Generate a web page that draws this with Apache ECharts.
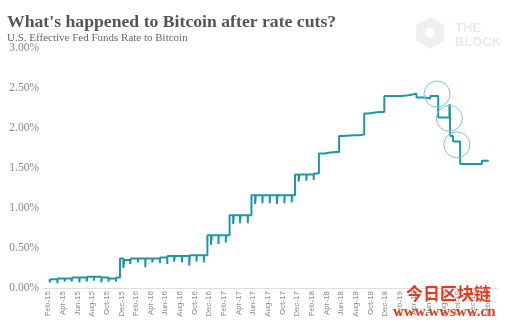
<!DOCTYPE html>
<html>
<head>
<meta charset="utf-8">
<script src="https://cdn.jsdelivr.net/npm/echarts@6/dist/echarts.min.js"></script>
<style>
html,body{margin:0;padding:0;background:#fff;}
#chart{width:506px;height:324px;}
</style>
</head>
<body>
<div id="chart"></div>
<script>
// ---- data ----
var titleText = "What's happened to Bitcoin after rate cuts?";
var subtitleText = "U.S. Effective Fed Funds Rate to Bitcoin";

var tickLabels = ["Feb-15","Apr-15","Jun-15","Aug-15","Oct-15","Dec-15",
  "Feb-16","Apr-16","Jun-16","Aug-16","Oct-16","Dec-16",
  "Feb-17","Apr-17","Jun-17","Aug-17","Oct-17","Dec-17",
  "Feb-18","Apr-18","Jun-18","Aug-18","Oct-18","Dec-18",
  "Feb-19","Apr-19","Jun-19","Aug-19","Oct-19","Dec-19","Feb-20"];

var yTicks = [0, 0.5, 1, 1.5, 2, 2.5, 3];

// effective fed funds rate (%), [date, rate] step points
var effrPoints = [
  ["2015-02-26",0.11],["2015-02-27",0.07],
  ["2015-03-02",0.11],["2015-03-31",0.06],
  ["2015-04-01",0.12],["2015-04-30",0.08],
  ["2015-05-01",0.12],["2015-05-29",0.08],
  ["2015-06-01",0.13],["2015-06-30",0.07],
  ["2015-07-01",0.13],["2015-07-31",0.08],
  ["2015-08-03",0.14],["2015-08-31",0.09],
  ["2015-09-01",0.14],["2015-09-30",0.07],
  ["2015-10-01",0.13],["2015-10-30",0.08],
  ["2015-11-02",0.12],["2015-11-30",0.08],
  ["2015-12-01",0.13],["2015-12-17",0.37],["2015-12-31",0.25],
  ["2016-01-04",0.35],["2016-01-29",0.30],
  ["2016-02-01",0.37],["2016-02-29",0.32],
  ["2016-03-01",0.37],["2016-03-31",0.26],
  ["2016-04-01",0.37],["2016-04-29",0.32],
  ["2016-05-02",0.37],["2016-05-31",0.31],
  ["2016-06-01",0.38],["2016-06-30",0.30],
  ["2016-07-01",0.40],["2016-07-29",0.33],
  ["2016-08-01",0.40],["2016-08-31",0.32],
  ["2016-09-01",0.40],["2016-09-30",0.28],
  ["2016-10-03",0.41],["2016-10-31",0.33],
  ["2016-11-01",0.41],["2016-11-30",0.32],
  ["2016-12-01",0.41],["2016-12-15",0.66],["2016-12-30",0.54],
  ["2017-01-03",0.66],["2017-01-31",0.55],
  ["2017-02-01",0.66],["2017-02-28",0.57],
  ["2017-03-01",0.66],["2017-03-16",0.91],["2017-03-31",0.80],
  ["2017-04-03",0.91],["2017-04-28",0.81],
  ["2017-05-01",0.91],["2017-05-31",0.81],
  ["2017-06-01",0.91],["2017-06-15",1.16],["2017-06-30",1.05],
  ["2017-07-03",1.16],["2017-07-31",1.06],
  ["2017-08-01",1.16],["2017-08-31",1.06],
  ["2017-09-01",1.16],["2017-09-29",1.05],
  ["2017-10-02",1.16],["2017-10-31",1.06],
  ["2017-11-01",1.16],["2017-11-30",1.07],
  ["2017-12-01",1.16],["2017-12-14",1.42],["2017-12-29",1.33],
  ["2018-01-02",1.42],["2018-01-31",1.34],
  ["2018-02-01",1.42],["2018-02-28",1.35],
  ["2018-03-01",1.43],["2018-03-22",1.68],
  ["2018-04-16",1.69],["2018-05-01",1.70],["2018-05-31",1.71],["2018-06-01",1.70],
  ["2018-06-14",1.90],["2018-06-29",1.92],["2018-07-02",1.91],["2018-08-15",1.91],["2018-09-04",1.92],
  ["2018-09-27",2.18],["2018-10-15",2.19],["2018-11-01",2.20],["2018-11-30",2.22],["2018-12-03",2.20],
  ["2018-12-20",2.40],["2019-01-02",2.40],["2019-02-01",2.40],["2019-03-01",2.41],["2019-03-29",2.43],
  ["2019-04-01",2.42],["2019-04-15",2.44],["2019-04-22",2.43],["2019-04-30",2.45],["2019-05-01",2.44],
  ["2019-05-02",2.38],["2019-06-03",2.37],["2019-06-28",2.40],["2019-07-01",2.40],
  ["2019-07-31",2.13],["2019-09-03",2.13],
  ["2019-09-16",2.25],["2019-09-17",2.30],["2019-09-18",2.25],["2019-09-19",1.95],["2019-09-20",1.90],
  ["2019-10-01",1.83],["2019-10-15",1.85],["2019-10-16",1.83],
  ["2019-10-31",1.58],["2019-11-01",1.55],["2020-01-02",1.55],
  ["2020-01-30",1.59],["2020-02-24",1.58]
];

// highlighted rate-cut periods: [date, rate]
var cutCircles = [["2019-07-26",2.425],["2019-09-16",2.12],["2019-10-17",1.79]];

// ---- helpers ----
function monthsSinceStart(s){
  var p = s.split('-'), y=+p[0], mo=+p[1], d=+p[2];
  var dim = new Date(y, mo, 0).getDate();
  return (y-2015)*12 + (mo-2) + (d-1)/dim;
}
var labelOffset = 0.7;
var labelPositions = tickLabels.map(function(_, i){ return i*2 + labelOffset; });

var seriesData = effrPoints.map(function(p){ return [monthsSinceStart(p[0]), p[1]]; });
var circleData = cutCircles.map(function(p){ return { coord: [monthsSinceStart(p[0]), p[1]] }; });

var chart = echarts.init(document.getElementById('chart'), null, {renderer:'canvas'});
var serif = '"Liberation Serif", "DejaVu Serif", serif';
chart.setOption({
  animation: false,
  backgroundColor: '#ffffff',
  title: [
    { text: titleText, left: 2, top: 8,
      textStyle: { fontFamily: serif, fontWeight: 'bold', fontSize: 17.7, color: '#555555' } },
    { text: subtitleText, left: 2, top: 28,
      textStyle: { fontFamily: serif, fontWeight: 'normal', fontSize: 11, color: '#666666' } }
  ],
  graphic: [
    { type: 'polygon', shape: { points: [[430,17],[444,25],[444,41],[430,49],[416,41],[416,25]] },
      style: { fill: '#efefef' }, z: 0 },
    { type: 'circle', shape: { cx: 430, cy: 33, r: 5 }, style: { fill: '#ffffff' }, z: 1 },
    { type: 'text', left: 455, top: 22, style: { text: 'THE', fontFamily: 'Liberation Sans, Arial', fontWeight: 'bold', fontSize: 13, fill: '#eaeaea' }, z: 0 },
    { type: 'text', left: 455, top: 36, style: { text: 'BLOCK', fontFamily: 'Liberation Sans, Arial', fontWeight: 'bold', fontSize: 13, fill: '#eaeaea' }, z: 0 },
    { type: 'text', left: 406, top: 285, style: { text: '今日区块链', fontFamily: '"Noto Sans CJK SC"', fontWeight: 'bold', fontSize: 17, fill: '#e8391d' }, z: 100 },
    { type: 'text', left: 393, top: 305, style: { text: 'www.wwsww.cn', fontFamily: serif, fontWeight: 'bold', fontSize: 15, fill: '#e8391d' }, z: 100 }
  ],
  grid: { left: 43, right: 9, top: 48, bottom: 36, containLabel: false },
  xAxis: {
    type: 'value', min: 0, max: 62,
    splitLine: { show: false },
    axisLine: { show: true, lineStyle: { color: '#dddddd', width: 1 } },
    axisTick: { show: false },
    axisLabel: {
      customValues: labelPositions,
      rotate: 90, margin: 3, fontSize: 8, color: '#888888',
      fontFamily: '"Liberation Sans", Arial, sans-serif',
      formatter: function(v){
        var k = Math.round((v - labelOffset)/2);
        return tickLabels[k] || '';
      }
    }
  },
  yAxis: {
    type: 'value', min: 0, max: 3, interval: 0.5,
    splitLine: { show: false },
    axisLine: { show: false }, axisTick: { show: false },
    axisLabel: { margin: 4, fontSize: 11.5, color: '#888888', fontFamily: serif,
      formatter: function(v){ return v.toFixed(2) + '%'; } }
  },
  series: [{
    type: 'line', step: 'end', data: seriesData, showSymbol: false,
    lineStyle: { color: '#1d98a4', width: 2 },
    markPoint: {
      symbol: 'circle', symbolSize: 26, silent: true,
      itemStyle: { color: 'rgba(0,0,0,0)', borderColor: '#80c4cd', borderWidth: 1 },
      label: { show: false },
      data: circleData
    }
  }]
});
</script>
</body>
</html>
